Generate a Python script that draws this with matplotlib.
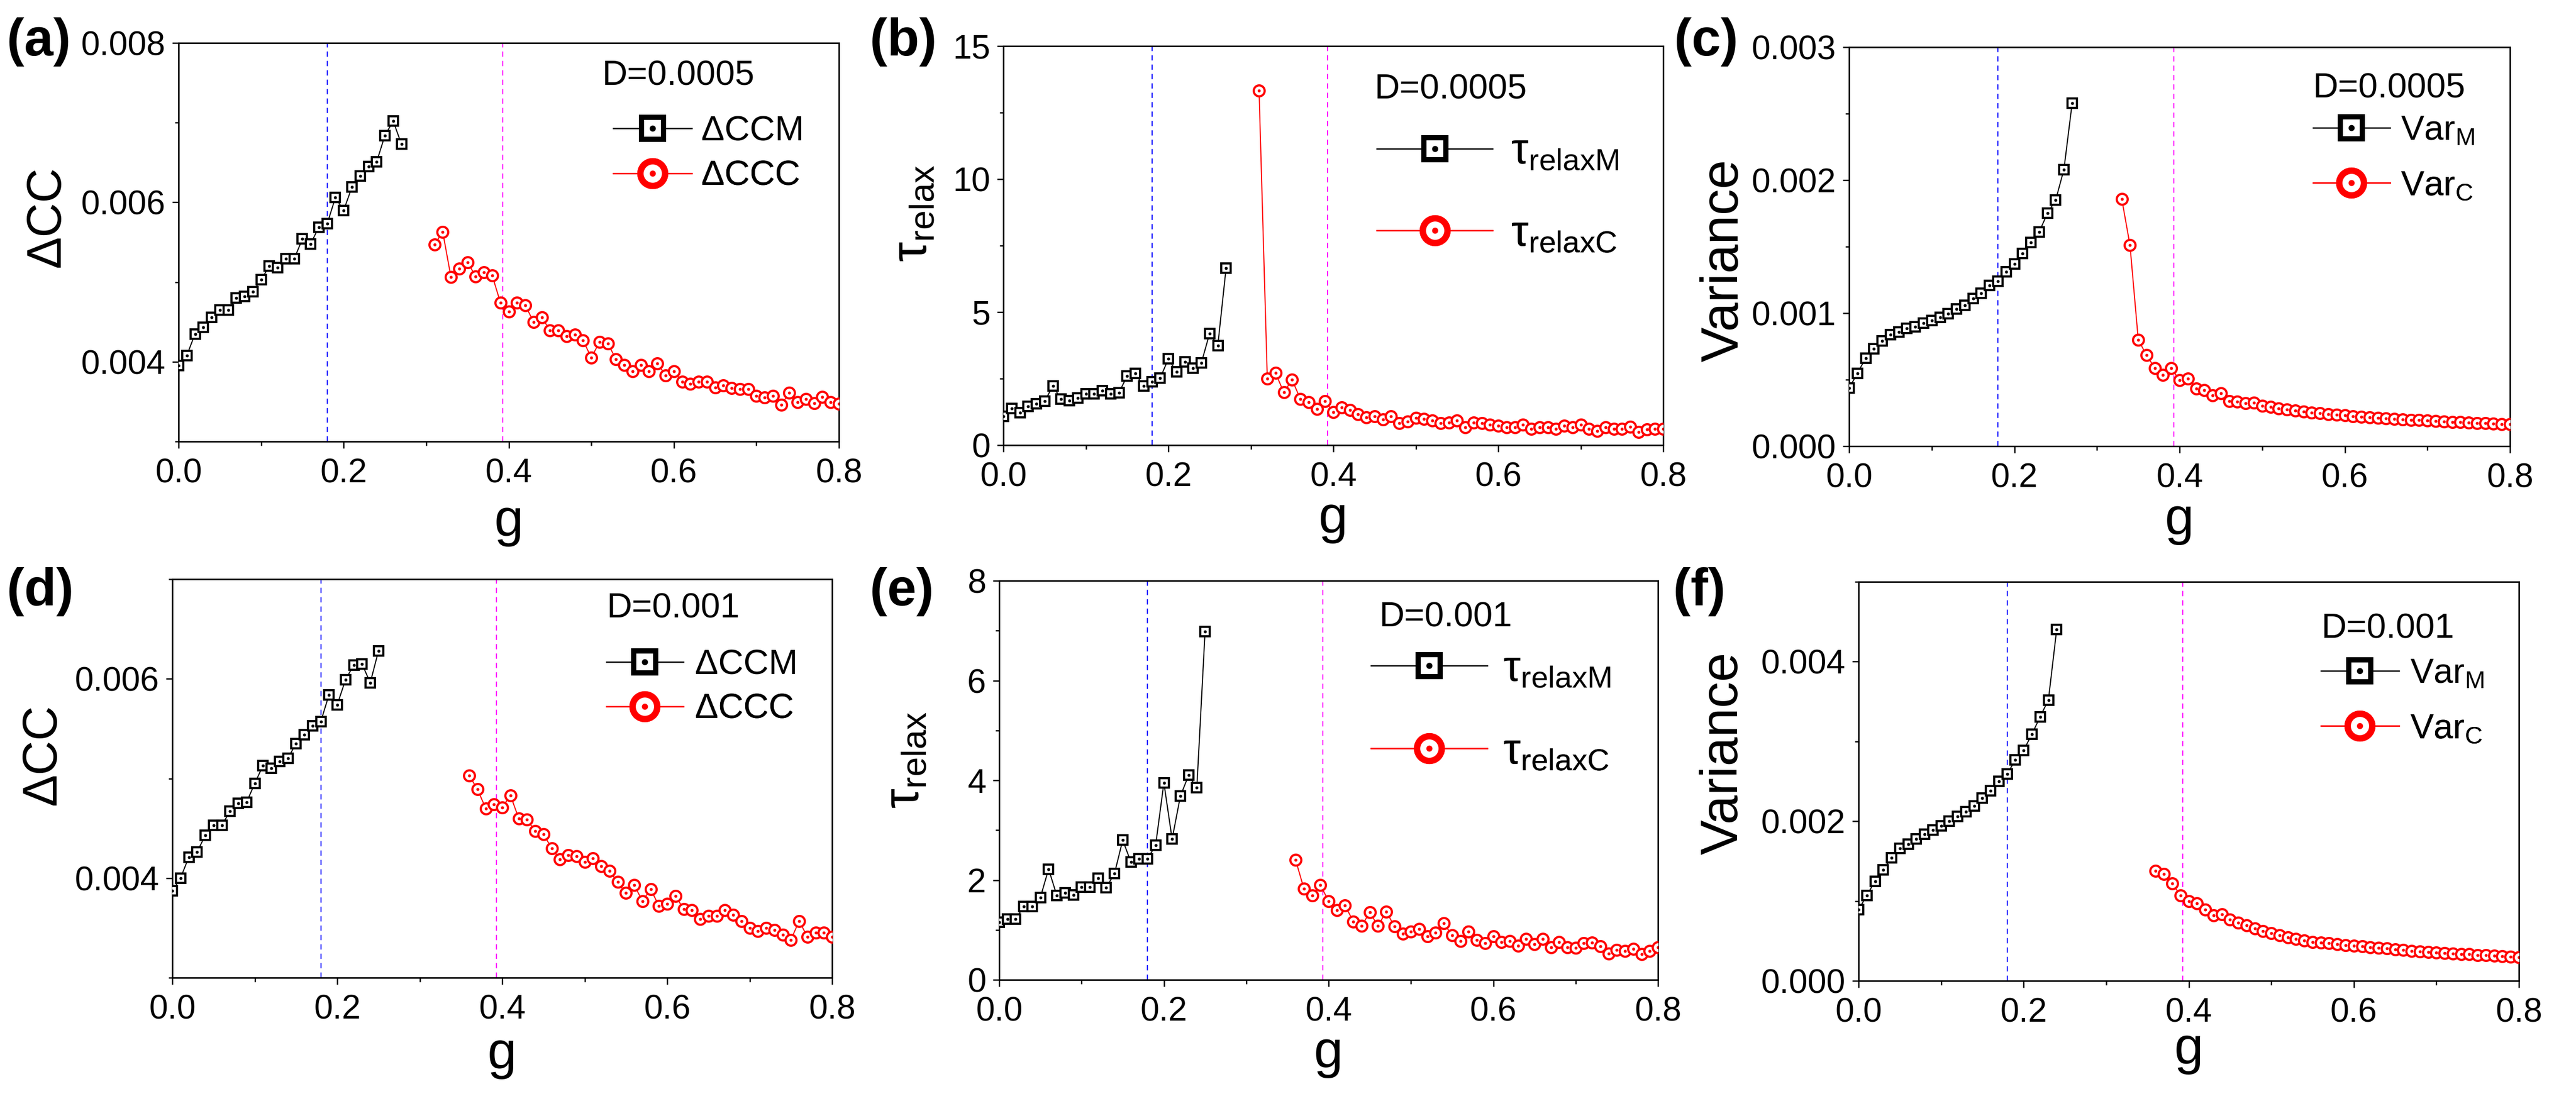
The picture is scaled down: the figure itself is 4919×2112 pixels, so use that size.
import matplotlib
matplotlib.use('Agg')
import matplotlib.pyplot as plt
from matplotlib.lines import Line2D
from matplotlib.legend_handler import HandlerTuple
from matplotlib.ticker import MultipleLocator, FormatStrFormatter

# -------------------- DATOS --------------------
# rejilla de g (paso 0.01)
G = [0.00, 0.01, 0.02, 0.03, 0.04, 0.05, 0.06, 0.07, 0.08, 0.09,
     0.10, 0.11, 0.12, 0.13, 0.14, 0.15, 0.16, 0.17, 0.18, 0.19,
     0.20, 0.21, 0.22, 0.23, 0.24, 0.25, 0.26, 0.27, 0.28, 0.29,
     0.30, 0.31, 0.32, 0.33, 0.34, 0.35, 0.36, 0.37, 0.38, 0.39,
     0.40, 0.41, 0.42, 0.43, 0.44, 0.45, 0.46, 0.47, 0.48, 0.49,
     0.50, 0.51, 0.52, 0.53, 0.54, 0.55, 0.56, 0.57, 0.58, 0.59,
     0.60, 0.61, 0.62, 0.63, 0.64, 0.65, 0.66, 0.67, 0.68, 0.69,
     0.70, 0.71, 0.72, 0.73, 0.74, 0.75, 0.76, 0.77, 0.78, 0.79,
     0.80]

# (a) D=0.0005, delta CC
a_m = [0.00395, 0.00408, 0.00435, 0.00443, 0.00456, 0.00465, 0.00465, 0.00480, 0.00482, 0.00488,
       0.00503, 0.00520, 0.00518, 0.00529, 0.00529, 0.00554, 0.00548, 0.00569, 0.00573, 0.00606,
       0.00590, 0.00619, 0.00633, 0.00645, 0.00651, 0.00684, 0.00702, 0.00673]
a_c = [0.00547, 0.00563, 0.00506, 0.00517, 0.00525, 0.00507, 0.00512, 0.00508, 0.00474, 0.00463,
       0.00474, 0.00471, 0.00450, 0.00456, 0.00439, 0.00439, 0.00432, 0.00434, 0.00427, 0.00405,
       0.00425, 0.00423, 0.00403, 0.00396, 0.00388, 0.00396, 0.00388, 0.00398, 0.00383, 0.00388,
       0.00375, 0.00372, 0.00375, 0.00375, 0.00368, 0.00370, 0.00367, 0.00366, 0.00366, 0.00357,
       0.00355, 0.00357, 0.00346, 0.00361, 0.00349, 0.00353, 0.00348, 0.00356, 0.00349, 0.00347]

# (b) D=0.0005, tau relax
b_m = [1.09, 1.38, 1.22, 1.45, 1.56, 1.65, 2.22, 1.73, 1.68, 1.78,
       1.93, 1.93, 2.05, 1.93, 1.97, 2.59, 2.69, 2.22, 2.38, 2.51,
       3.24, 2.75, 3.13, 2.89, 3.09, 4.19, 3.75, 6.65]
b_c = [13.32, 2.50, 2.71, 1.98, 2.46, 1.74, 1.61, 1.36, 1.65, 1.25,
       1.42, 1.32, 1.16, 1.05, 1.09, 0.96, 1.09, 0.82, 0.89, 1.02,
       0.98, 0.92, 0.82, 0.85, 0.92, 0.66, 0.85, 0.82, 0.76, 0.72,
       0.66, 0.66, 0.76, 0.62, 0.66, 0.66, 0.62, 0.72, 0.66, 0.76,
       0.62, 0.53, 0.66, 0.62, 0.62, 0.69, 0.49, 0.60, 0.62, 0.62]

# (c) D=0.0005, varianza
c_m = [0.000436, 0.000548, 0.000662, 0.000734, 0.000793, 0.000840, 0.000859, 0.000886, 0.000899, 0.000926,
       0.000944, 0.000968, 0.000997, 0.00103, 0.00106, 0.00111, 0.00115, 0.00121, 0.00124, 0.00131,
       0.00137, 0.00145, 0.00153, 0.00161, 0.00175, 0.00185, 0.00208, 0.00258]
c_c = [0.00186, 0.00151, 0.00080, 0.000684, 0.000588, 0.000535, 0.000588, 0.000495,
       0.000508, 0.000434, 0.000423, 0.000380, 0.000396, 0.000340, 0.000335, 0.000322, 0.000327, 0.000303,
       0.000295, 0.000282, 0.000274, 0.000269, 0.000261, 0.000253, 0.000247, 0.000242, 0.000237, 0.000231,
       0.000226, 0.000221, 0.000217, 0.000213, 0.000209, 0.000205, 0.000201, 0.000198, 0.000195, 0.000192,
       0.000189, 0.000186, 0.000183, 0.000180, 0.000178, 0.000175, 0.000172, 0.000170, 0.000167, 0.000165]

# (d) D=0.001, delta CC
d_m = [0.00387, 0.00400, 0.00421, 0.00426, 0.00443, 0.00453, 0.00453, 0.00467, 0.00475, 0.00476,
       0.00495, 0.00513, 0.00510, 0.00517, 0.00520, 0.00535, 0.00544, 0.00553, 0.00557, 0.00584,
       0.00574, 0.00599, 0.00614, 0.00615, 0.00596, 0.00628]
d_c = [0.00503, 0.00489, 0.00470, 0.00474, 0.00471,
       0.00483, 0.00460, 0.00459, 0.00447, 0.00444, 0.00430, 0.00419, 0.00423, 0.00422, 0.00416,
       0.00420, 0.00412, 0.00407, 0.00396, 0.00385, 0.00393, 0.00377, 0.00389, 0.00372, 0.00374,
       0.00382, 0.00369, 0.00368, 0.00359, 0.00362, 0.00362, 0.00368, 0.00363, 0.00357, 0.00350,
       0.00347, 0.00350, 0.00348, 0.00343, 0.00338, 0.00357, 0.00341, 0.00345, 0.00345, 0.00341]

# (e) D=0.001, tau relax
e_m = [1.15, 1.22, 1.22, 1.47, 1.47, 1.65, 2.22, 1.69, 1.74, 1.70,
       1.86, 1.86, 2.04, 1.85, 2.13, 2.80, 2.36, 2.43, 2.42, 2.70,
       3.95, 2.82, 3.68, 4.10, 3.85, 6.98]
e_c = [2.40, 1.83, 1.69, 1.90, 1.58,
       1.40, 1.49, 1.17, 1.08, 1.35, 1.08, 1.37, 1.07, 0.92, 0.97,
       1.02, 0.87, 0.95, 1.13, 0.89, 0.78, 0.97, 0.80, 0.73, 0.87,
       0.76, 0.78, 0.68, 0.82, 0.71, 0.82, 0.65, 0.76, 0.65, 0.64,
       0.73, 0.75, 0.67, 0.53, 0.60, 0.58, 0.62, 0.51, 0.58, 0.65]

# (f) D=0.001, varianza
f_m = [0.000892, 0.00107, 0.00125, 0.00139, 0.00154, 0.00166, 0.00171, 0.00178, 0.00184, 0.00189,
       0.00194, 0.00200, 0.00206, 0.00212, 0.00219, 0.00229, 0.00238, 0.00250, 0.00259, 0.00277,
       0.00289, 0.00309, 0.00331, 0.00352, 0.00440]
f_c = [0.00138, 0.00134, 0.00122, 0.00107, 0.00100,
       0.000968, 0.000892, 0.000817, 0.000835, 0.000768, 0.000728, 0.000693, 0.000657, 0.000626, 0.000595,
       0.000568, 0.000546, 0.000524, 0.000506, 0.000488, 0.000479, 0.000471, 0.000457, 0.000448, 0.000440,
       0.000435, 0.000422, 0.000413, 0.000404, 0.000395, 0.000386, 0.000377, 0.000368, 0.000364, 0.000355,
       0.000351, 0.000342, 0.000337, 0.000333, 0.000324, 0.000320, 0.000315, 0.000306, 0.000302, 0.000293]

g_crit_blue = 0.18
g_crit_mag = 0.393

# -------------------- ESTILO --------------------
plt.rcParams['font.family'] = ['Liberation Sans', 'DejaVu Sans']
plt.rcParams['mathtext.fontset'] = 'custom'
plt.rcParams['mathtext.rm'] = 'Liberation Sans'
plt.rcParams['mathtext.it'] = 'Liberation Sans:italic'
plt.rcParams['mathtext.bf'] = 'Liberation Sans:bold'

W, H = 4919, 2112
fig = plt.figure(figsize=(W / 300, H / 300), dpi=300)

# cada panel: caja en pixeles (izq, arriba, der, abajo) y textos
paneles = [
    dict(box=(341, 82, 1602, 843), gm=G[:28], vm=a_m, gc=G[31:], vc=a_c,
         ylim=(0.003, 0.008), major=0.002, minor=0.001, fmt='%.3f',
         ylabel='ΔCC', ylfs=22, ylpos=(-0.199, 0.564), xloff=180,
         D='D=0.0005', Dpos=(0.641, 0.917),
         labels=('ΔCCM', 'ΔCCC'), legx=0.658, legy=(0.777, 0.665),
         legfs=16, hl=2.26, htp=0.27, tag='(a)', tagpos=(13, 80)),
    dict(box=(1916, 88, 3176, 850), gm=G[:28], vm=b_m, gc=G[31:], vc=b_c,
         ylim=(0, 15), major=5, minor=2.5, fmt='%d',
         ylabel='τ$_{\\mathrm{relax}}$', ylfs=23, ylpos=(-0.136, 0.581), xloff=167,
         D='D=0.0005', Dpos=(0.562, 0.890),
         labels=('τ$_{\\mathrm{relaxM}}$', 'τ$_{\\mathrm{relaxC}}$'), legx=0.566, legy=(0.734, 0.528),
         legfs=20, hl=2.65, htp=0.42, tag='(b)', tagpos=(1661, 80)),
    dict(box=(3531, 90, 4793, 852), gm=G[:28], vm=c_m, gc=G[33:], vc=c_c,
         ylim=(0, 0.003), major=0.001, minor=0.0005, fmt='%.3f',
         ylabel='Variance', ylfs=24, ylpos=(-0.189, 0.466), xloff=168,
         D='D=0.0005', Dpos=(0.702, 0.896),
         labels=('Var$_{\\mathrm{M}}$', 'Var$_{\\mathrm{C}}$'), legx=0.702, legy=(0.790, 0.652),
         legfs=16, hl=2.2, htp=0.31, tag='(c)', tagpos=(3197, 80)),
    dict(box=(329, 1106, 1589, 1867), gm=G[:26], vm=d_m, gc=G[36:], vc=d_c,
         ylim=(0.003, 0.007), major=0.002, minor=0.001, fmt='%.3f',
         ylabel='ΔCC', ylfs=22, ylpos=(-0.196, 0.560), xloff=173,
         D='D=0.001', Dpos=(0.658, 0.926),
         labels=('ΔCCM', 'ΔCCC'), legx=0.658, legy=(0.784, 0.673),
         legfs=16, hl=2.2, htp=0.34, tag='(d)', tagpos=(13, 1130)),
    dict(box=(1908, 1109, 3166, 1871), gm=G[:26], vm=e_m, gc=G[36:], vc=e_c,
         ylim=(0, 8), major=2, minor=1, fmt='%d',
         ylabel='τ$_{\\mathrm{relax}}$', ylfs=23, ylpos=(-0.142, 0.551), xloff=167,
         D='D=0.001', Dpos=(0.577, 0.908),
         labels=('τ$_{\\mathrm{relaxM}}$', 'τ$_{\\mathrm{relaxC}}$'), legx=0.564, legy=(0.778, 0.570),
         legfs=20, hl=2.67, htp=0.36, tag='(e)', tagpos=(1661, 1130)),
    dict(box=(3549, 1111, 4810, 1873), gm=G[:25], vm=f_m, gc=G[36:], vc=f_c,
         ylim=(0, 0.005), major=0.002, minor=0.001, fmt='%.3f',
         ylabel='Variance', ylfs=24, ylpos=(-0.204, 0.570), xloff=158,
         D='D=0.001', Dpos=(0.701, 0.881),
         labels=('Var$_{\\mathrm{M}}$', 'Var$_{\\mathrm{C}}$'), legx=0.700, legy=(0.769, 0.631),
         legfs=16, hl=2.24, htp=0.31, tag='(f)', tagpos=(3195, 1130)),
]

dashes = (0, (4.8, 3.8))

for p in paneles:
    l, t, r, b = p['box']
    ax = fig.add_axes([l / W, 1 - b / H, (r - l) / W, (b - t) / H])
    alto = b - t

    # lineas criticas
    ax.axvline(g_crit_blue, color='blue', lw=0.5, ls=dashes, zorder=1)
    ax.axvline(g_crit_mag, color='magenta', lw=0.5, ls=dashes, zorder=1)

    # serie M (cuadrados) y serie C (circulos), con punto central
    ax.plot(p['gm'], p['vm'], color='black', lw=0.5, marker='s', ms=4.5, mew=1.0,
            mfc='white', mec='black', zorder=3)
    ax.plot(p['gm'], p['vm'], ls='none', marker='o', ms=1.4, mew=0, color='black', zorder=4)
    ax.plot(p['gc'], p['vc'], color='red', lw=0.5, marker='o', ms=5.0, mew=1.0,
            mfc='white', mec='red', zorder=3)
    ax.plot(p['gc'], p['vc'], ls='none', marker='o', ms=1.4, mew=0, color='red', zorder=4)

    ax.set_xlim(0, 0.8)
    ax.set_ylim(*p['ylim'])
    ax.xaxis.set_major_locator(MultipleLocator(0.2))
    ax.xaxis.set_minor_locator(MultipleLocator(0.1))
    ax.xaxis.set_major_formatter(FormatStrFormatter('%.1f'))
    ax.yaxis.set_major_locator(MultipleLocator(p['major']))
    ax.yaxis.set_minor_locator(MultipleLocator(p['minor']))
    ax.yaxis.set_major_formatter(FormatStrFormatter(p['fmt']))
    ax.tick_params(which='both', direction='out', top=False, right=False, width=0.6)
    ax.tick_params(which='major', length=3, labelsize=15.5)
    ax.tick_params(axis='x', which='major', pad=4.5)
    ax.tick_params(axis='y', which='major', pad=3)
    ax.tick_params(which='minor', length=1.8)
    for s in ax.spines.values():
        s.set_linewidth(0.7)

    ax.set_xlabel('g', fontsize=24)
    ax.xaxis.set_label_coords(0.5, -p['xloff'] / alto)
    ax.xaxis.label.set_verticalalignment('baseline')
    ax.set_ylabel(p['ylabel'], fontsize=p['ylfs'])
    ax.yaxis.set_label_coords(*p['ylpos'])
    ax.yaxis.label.set_verticalalignment('center')

    ax.text(p['Dpos'][0], p['Dpos'][1], p['D'], transform=ax.transAxes,
            fontsize=16, ha='left', va='center')

    # leyenda: una entrada por fila para fijar la posicion de cada una
    h_m = (Line2D([], [], color='black', lw=0.6, marker='s', ms=10.3, mew=2.4,
                  mfc='white', mec='black'),
           Line2D([], [], ls='none', marker='o', ms=2.8, mew=0, color='black'))
    h_c = (Line2D([], [], color='red', lw=0.6, marker='o', ms=11.3, mew=2.9,
                  mfc='white', mec='red'),
           Line2D([], [], ls='none', marker='o', ms=2.8, mew=0, color='red'))
    for h, lab, yy in [(h_m, p['labels'][0], p['legy'][0]), (h_c, p['labels'][1], p['legy'][1])]:
        leg = ax.legend([h], [lab], handler_map={tuple: HandlerTuple(ndivide=1)},
                        loc='center left', bbox_to_anchor=(p['legx'], yy),
                        frameon=False, borderpad=0, borderaxespad=0,
                        handlelength=p['hl'], handletextpad=p['htp'], fontsize=p['legfs'])
        ax.add_artist(leg)

    fig.text(p['tagpos'][0] / W, 1 - p['tagpos'][1] / H, p['tag'], fontsize=24,
             fontweight='bold', ha='left', va='center')

fig.savefig('out.png', dpi=300)
